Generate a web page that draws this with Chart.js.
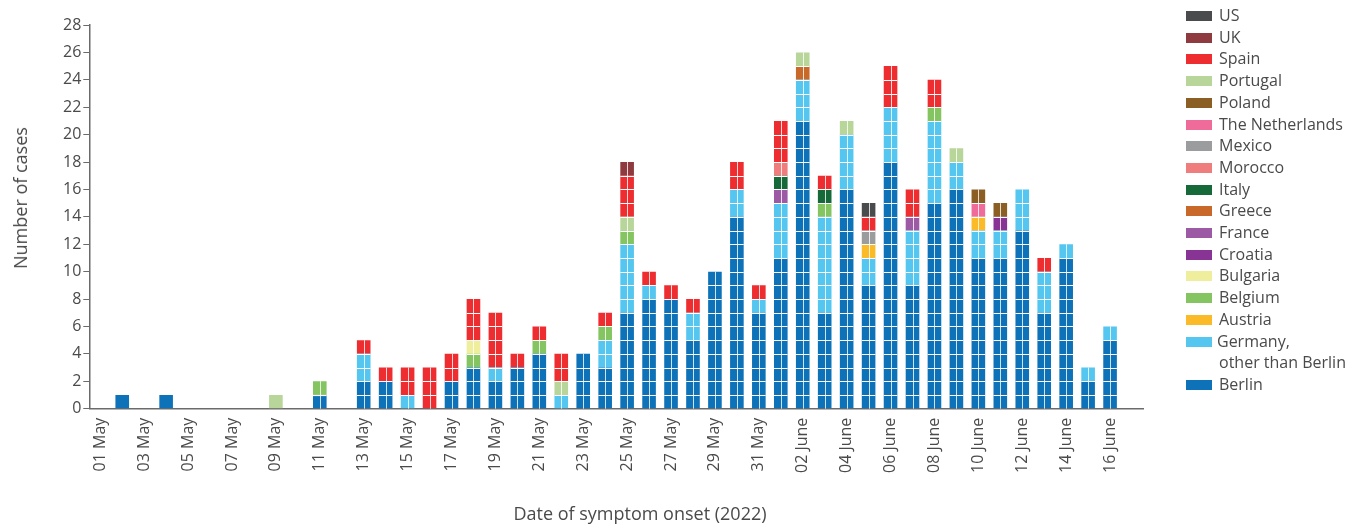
<!DOCTYPE html>
<html>
<head>
<meta charset="utf-8">
<script src="https://cdn.jsdelivr.net/npm/chart.js@4.4.1/dist/chart.umd.min.js"></script>
<style>
    body { margin: 0; background: #fff; }
    #wrap { position: relative; width: 1358px; height: 525px; font-family: "Open Sans", sans-serif; color: #4a4a4a; }
    #chart { position: absolute; left: 0; top: 0; }
    .ytitle { position: absolute; left: 20px; top: 198px; transform: translate(-50%, -50%) rotate(-90deg); font-size: 18px; white-space: nowrap; }
    .xtitle { position: absolute; left: 640px; top: 513px; transform: translate(-50%, -50%); font-size: 18px; white-space: nowrap; }
    #legend { position: absolute; left: 1186px; top: 5px; font-size: 16px; }
    #legend .item { position: relative; line-height: 21.7px; padding-left: 33px; white-space: nowrap; }
    #legend .box { position: absolute; left: 0; top: 6px; width: 26px; height: 10px; }
</style>
</head>
<body>
<div id="wrap">
    <canvas id="chart" width="1358" height="525"></canvas>
    <div class="ytitle">Number of cases</div>
    <div class="xtitle">Date of symptom onset (2022)</div>
    <div id="legend"></div>
</div>
<script>
// Dates, 01 May - 17 June 2022
const dates = [
    "01 May", "02 May", "03 May", "04 May", "05 May", "06 May", "07 May", "08 May", "09 May", "10 May",
    "11 May", "12 May", "13 May", "14 May", "15 May", "16 May", "17 May", "18 May", "19 May", "20 May",
    "21 May", "22 May", "23 May", "24 May", "25 May", "26 May", "27 May", "28 May", "29 May", "30 May",
    "31 May", "01 June", "02 June", "03 June", "04 June", "05 June", "06 June", "07 June", "08 June", "09 June",
    "10 June", "11 June", "12 June", "13 June", "14 June", "15 June", "16 June", "17 June"
];

const berlin      = [0,1,0,1,0,0,0,0,0,0, 1,0,2,2,0,0,2,3,2,3, 4,0,4,3,7,8,8,5,10,14, 7,11,21,7,16,9,18,9,15,16, 11,11,13,7,11,2,5,0];
const germany     = [0,0,0,0,0,0,0,0,0,0, 0,0,2,0,1,0,0,0,1,0, 0,1,0,2,5,1,0,2,0,2, 1,4,3,7,4,2,4,4,6,2, 2,2,3,3,1,1,1,0];
const austria     = [0,0,0,0,0,0,0,0,0,0, 0,0,0,0,0,0,0,0,0,0, 0,0,0,0,0,0,0,0,0,0, 0,0,0,0,0,1,0,0,0,0, 1,0,0,0,0,0,0,0];
const belgium     = [0,0,0,0,0,0,0,0,0,0, 1,0,0,0,0,0,0,1,0,0, 1,0,0,1,1,0,0,0,0,0, 0,0,0,1,0,0,0,0,1,0, 0,0,0,0,0,0,0,0];
const bulgaria    = [0,0,0,0,0,0,0,0,0,0, 0,0,0,0,0,0,0,1,0,0, 0,0,0,0,0,0,0,0,0,0, 0,0,0,0,0,0,0,0,0,0, 0,0,0,0,0,0,0,0];
const croatia     = [0,0,0,0,0,0,0,0,0,0, 0,0,0,0,0,0,0,0,0,0, 0,0,0,0,0,0,0,0,0,0, 0,0,0,0,0,0,0,0,0,0, 0,1,0,0,0,0,0,0];
const france      = [0,0,0,0,0,0,0,0,0,0, 0,0,0,0,0,0,0,0,0,0, 0,0,0,0,0,0,0,0,0,0, 0,1,0,0,0,0,0,1,0,0, 0,0,0,0,0,0,0,0];
const greece      = [0,0,0,0,0,0,0,0,0,0, 0,0,0,0,0,0,0,0,0,0, 0,0,0,0,0,0,0,0,0,0, 0,0,1,0,0,0,0,0,0,0, 0,0,0,0,0,0,0,0];
const italy       = [0,0,0,0,0,0,0,0,0,0, 0,0,0,0,0,0,0,0,0,0, 0,0,0,0,0,0,0,0,0,0, 0,1,0,1,0,0,0,0,0,0, 0,0,0,0,0,0,0,0];
const morocco     = [0,0,0,0,0,0,0,0,0,0, 0,0,0,0,0,0,0,0,0,0, 0,0,0,0,0,0,0,0,0,0, 0,1,0,0,0,0,0,0,0,0, 0,0,0,0,0,0,0,0];
const mexico      = [0,0,0,0,0,0,0,0,0,0, 0,0,0,0,0,0,0,0,0,0, 0,0,0,0,0,0,0,0,0,0, 0,0,0,0,0,1,0,0,0,0, 0,0,0,0,0,0,0,0];
const netherlands = [0,0,0,0,0,0,0,0,0,0, 0,0,0,0,0,0,0,0,0,0, 0,0,0,0,0,0,0,0,0,0, 0,0,0,0,0,0,0,0,0,0, 1,0,0,0,0,0,0,0];
const poland      = [0,0,0,0,0,0,0,0,0,0, 0,0,0,0,0,0,0,0,0,0, 0,0,0,0,0,0,0,0,0,0, 0,0,0,0,0,0,0,0,0,0, 1,1,0,0,0,0,0,0];
const portugal    = [0,0,0,0,0,0,0,0,1,0, 0,0,0,0,0,0,0,0,0,0, 0,1,0,0,1,0,0,0,0,0, 0,0,1,0,1,0,0,0,0,1, 0,0,0,0,0,0,0,0];
const spain       = [0,0,0,0,0,0,0,0,0,0, 0,0,1,1,2,3,2,3,4,1, 1,2,0,1,3,1,1,1,0,2, 1,3,0,1,0,1,3,2,2,0, 0,0,0,1,0,0,0,0];
const uk          = [0,0,0,0,0,0,0,0,0,0, 0,0,0,0,0,0,0,0,0,0, 0,0,0,0,1,0,0,0,0,0, 0,0,0,0,0,0,0,0,0,0, 0,0,0,0,0,0,0,0];
const us          = [0,0,0,0,0,0,0,0,0,0, 0,0,0,0,0,0,0,0,0,0, 0,0,0,0,0,0,0,0,0,0, 0,0,0,0,0,1,0,0,0,0, 0,0,0,0,0,0,0,0];

const yTicks = [0, 2, 4, 6, 8, 10, 12, 14, 16, 18, 20, 22, 24, 26, 28];

// bottom to top
const series = [
    { label: "Berlin", data: berlin, color: "#0e72b9" },
    { label: ["Germany,", "other than Berlin"], data: germany, color: "#55c6f0" },
    { label: "Austria", data: austria, color: "#fbba27" },
    { label: "Belgium", data: belgium, color: "#84c562" },
    { label: "Bulgaria", data: bulgaria, color: "#eeee9d" },
    { label: "Croatia", data: croatia, color: "#873494" },
    { label: "France", data: france, color: "#9b5aa3" },
    { label: "Greece", data: greece, color: "#c8692a" },
    { label: "Italy", data: italy, color: "#166a39" },
    { label: "Morocco", data: morocco, color: "#f07d7e" },
    { label: "Mexico", data: mexico, color: "#9a9c9e" },
    { label: "The Netherlands", data: netherlands, color: "#ef6b9a" },
    { label: "Poland", data: poland, color: "#8b5e24" },
    { label: "Portugal", data: portugal, color: "#b8d59a" },
    { label: "Spain", data: spain, color: "#ee2d30" },
    { label: "UK", data: uk, color: "#8e3a3e" },
    { label: "US", data: us, color: "#4a4b4d" },
];

// legend, top = last series
const legend = document.getElementById("legend");
series.slice().reverse().forEach((s) => {
    const item = document.createElement("div");
    item.className = "item";
    const box = document.createElement("span");
    box.className = "box";
    box.style.background = s.color;
    item.appendChild(box);
    const lines = Array.isArray(s.label) ? s.label : [s.label];
    const txt = document.createElement("span");
    txt.innerHTML = lines.join("<br>");
    if (lines.length > 1) txt.style.marginLeft = "-2px";
    item.appendChild(txt);
    legend.appendChild(item);
});

// white lines between single cases
const caseGrid = {
    id: "caseGrid",
    afterDatasetsDraw(chart) {
        const ctx = chart.ctx;
        const y = chart.scales.y;
        ctx.save();
        ctx.strokeStyle = "#ffffff";
        ctx.lineWidth = 1.2;
        dates.forEach((d, i) => {
            let total = 0;
            series.forEach((s) => { total += s.data[i]; });
            if (!total) return;
            const bar = chart.getDatasetMeta(0).data[i];
            const x = bar.x;
            const w = bar.width;
            ctx.beginPath();
            for (let k = 1; k < total; k++) {
                const py = Math.round(y.getPixelForValue(k)) + 0.5;
                ctx.moveTo(x - w / 2, py);
                ctx.lineTo(x + w / 2, py);
            }
            ctx.stroke();
            if (total > 1) {
                ctx.save();
                ctx.globalAlpha = 0.8;
                ctx.lineWidth = 1;
                ctx.beginPath();
                const px = Math.round(x) + 0.5;
                ctx.moveTo(px, y.getPixelForValue(0));
                ctx.lineTo(px, y.getPixelForValue(total));
                ctx.stroke();
                ctx.restore();
            }
        });
        ctx.restore();
    },
};

const ctx = document.getElementById("chart");
new Chart(ctx, {
    type: "bar",
    data: {
        labels: dates,
        datasets: series.map((s) => ({
            label: Array.isArray(s.label) ? s.label.join(" ") : s.label,
            data: s.data,
            backgroundColor: s.color,
            borderWidth: 0,
            barPercentage: 0.62,
            categoryPercentage: 1,
        })),
    },
    options: {
        responsive: false,
        animation: false,
        layout: {
            padding: { left: 61, right: 215, top: 25, bottom: 43 },
        },
        plugins: {
            legend: { display: false },
            tooltip: { enabled: false },
        },
        scales: {
            x: {
                stacked: true,
                grid: { display: false, drawTicks: false },
                border: { display: true, color: "#6b6b6b", width: 1.5 },
                ticks: {
                    autoSkip: false,
                    maxRotation: 90,
                    minRotation: 90,
                    padding: 9,
                    color: "#4a4a4a",
                    font: { family: "Open Sans", size: 16 },
                    callback: function (value, index) {
                        return index % 2 === 0 ? dates[index] : "";
                    },
                },
            },
            y: {
                stacked: true,
                min: 0,
                max: 28,
                afterBuildTicks: (scale) => {
                    scale.ticks = yTicks.map((v) => ({ value: v }));
                },
                grid: {
                    drawOnChartArea: false,
                    drawTicks: true,
                    tickLength: 6,
                    color: "#6b6b6b",
                },
                border: { display: true, color: "#6b6b6b", width: 1.5 },
                ticks: {
                    padding: 2,
                    color: "#4a4a4a",
                    font: { family: "Open Sans", size: 16 },
                },
            },
        },
    },
    plugins: [caseGrid],
});
</script>
</body>
</html>
